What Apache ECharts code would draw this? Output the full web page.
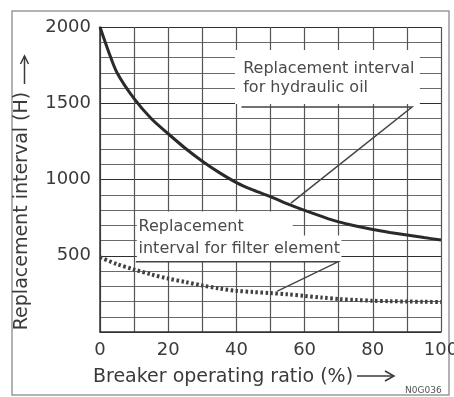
<!DOCTYPE html>
<html>
<head>
<meta charset="utf-8">
<script src="https://cdn.jsdelivr.net/npm/echarts@6/dist/echarts.min.js"></script>
<style>
  html, body { margin: 0; padding: 0; background: #fff; }
  #main { width: 454px; height: 397px; }
</style>
</head>
<body>
<div id="main"></div>
<script>
// breaker operating ratio (%) -> replacement interval (H)
const oilRatio = [0, 2.5, 5, 10, 15, 20, 25, 30, 35, 40, 45, 50, 55, 60, 65, 70, 75, 80, 85, 90, 95, 100]
const oilHours = [2000, 1840, 1700, 1530, 1400, 1300, 1205, 1120, 1045, 980, 930, 888, 840, 797, 758, 722, 695, 672, 653, 636, 619, 604]

const filterRatio = [0, 5, 10, 15, 20, 25, 30, 35, 40, 45, 50, 55, 60, 65, 70, 75, 80, 85, 90, 95, 100]
const filterHours = [490, 445, 410, 378, 350, 328, 305, 285, 270, 262, 255, 247, 237, 226, 216, 210, 205, 202, 200, 198, 197]

const xTicks = [0, 20, 40, 60, 80, 100]
const yTicks = [500, 1000, 1500, 2000]

const FONT = '"DejaVu Sans", "Liberation Sans", sans-serif'
const INK = '#3a3a3a'

let myChart = echarts.init(document.getElementById('main'))

let option = {
  backgroundColor: '#fff',
  animation: false,
  grid: { left: 100, top: 27, right: 13, bottom: 65, containLabel: false, outerBoundsMode: 'none' },
  xAxis: {
    type: 'value',
    min: 0,
    max: 100,
    interval: 10,
    axisLine: { show: true, lineStyle: { color: '#333', width: 1.5 } },
    axisTick: { show: false },
    axisLabel: {
      margin: 9,
      fontSize: 18,
      fontFamily: FONT,
      color: INK,
      formatter: v => (xTicks.indexOf(v) >= 0 ? String(v) : ''),
    },
    splitLine: { show: true, lineStyle: { color: '#555', width: 1.2 } },
  },
  yAxis: {
    type: 'value',
    min: 0,
    max: 2000,
    interval: 100,
    axisLine: { show: true, lineStyle: { color: '#333', width: 1.5 } },
    axisTick: { show: false },
    axisLabel: {
      margin: 9,
      fontSize: 18,
      fontFamily: FONT,
      color: INK,
      formatter: v => (yTicks.indexOf(v) >= 0 ? String(v) : ''),
    },
    splitLine: {
      show: true,
      lineStyle: { color: ['#2e2e2e', '#6a6a6a', '#6a6a6a', '#6a6a6a', '#6a6a6a'], width: 1.2 },
    },
  },
  series: [
    {
      name: 'hydraulic oil',
      type: 'line',
      smooth: 0.3,
      symbol: 'none',
      data: oilRatio.map((x, i) => [x, oilHours[i]]),
      lineStyle: { color: '#2a2a2a', width: 3 },
      z: 5,
    },
    {
      name: 'filter element',
      type: 'line',
      smooth: 0.3,
      symbol: 'none',
      data: filterRatio.map((x, i) => [x, filterHours[i]]),
      lineStyle: { color: '#404040', width: 4, type: [2.5, 2.5] },
      z: 5,
    },
  ],
}

myChart.setOption(option)

// annotation anchors, in data space
const px = p => myChart.convertToPixel({ gridIndex: 0 }, p)

function box(a, b) {
  const p1 = px(a), p2 = px(b)
  return {
    type: 'rect', z: 10,
    shape: { x: p1[0], y: p1[1], width: p2[0] - p1[0], height: p2[1] - p1[1] },
    style: { fill: '#fff' },
  }
}
function label(at, text) {
  const p = px(at)
  return {
    type: 'text', z: 11, x: p[0], y: p[1],
    style: { text: text, font: '16px ' + FONT, fill: '#4a4a4a', verticalAlign: 'middle' },
  }
}
function leader(points) {
  return {
    type: 'polyline', z: 12,
    shape: { points: points.map(px) },
    style: { stroke: '#444', lineWidth: 1.5, fill: null },
  }
}

let graphic = [
  // scanned page frame
  {
    type: 'rect', z: 0,
    shape: { x: 12, y: 11, width: 437, height: 384 },
    style: { fill: null, stroke: '#9a9a9a', lineWidth: 1.5 },
  },
  // hydraulic oil note
  box([39.6, 1850], [93.8, 1495]),
  label([42, 1725], 'Replacement interval'),
  label([42, 1600], 'for hydraulic oil'),
  leader([[41.5, 1475], [91.5, 1475], [56, 845]]),
  // filter element note
  box([10.8, 790], [56.5, 630]),
  box([10.8, 632], [70.8, 466]),
  label([11.3, 690], 'Replacement'),
  label([11.3, 545], 'interval for filter element'),
  leader([[10.5, 460], [69.8, 460], [52, 268]]),
  // axis names
  {
    type: 'text', x: 22, y: 211, rotation: Math.PI / 2,
    style: { text: 'Replacement interval (H)', font: '19px ' + FONT, fill: INK, align: 'center', verticalAlign: 'middle' },
  },
  {
    type: 'polyline',
    shape: { points: [[24.5, 84], [24.5, 56]] },
    style: { stroke: INK, lineWidth: 1.5, fill: null },
  },
  {
    type: 'polyline',
    shape: { points: [[20.5, 64], [24.5, 56], [28.5, 64]] },
    style: { stroke: INK, lineWidth: 1.5, fill: null },
  },
  {
    type: 'text', x: 93, y: 377,
    style: { text: 'Breaker operating ratio (%)', font: '19px ' + FONT, fill: INK, verticalAlign: 'middle' },
  },
  {
    type: 'polyline',
    shape: { points: [[357, 376], [394, 376]] },
    style: { stroke: INK, lineWidth: 1.5, fill: null },
  },
  {
    type: 'polyline',
    shape: { points: [[385, 371], [394, 376], [385, 381]] },
    style: { stroke: INK, lineWidth: 1.5, fill: null },
  },
  {
    type: 'text', x: 405, y: 391,
    style: { text: 'N0G036', font: '9px ' + FONT, fill: '#555', verticalAlign: 'middle' },
  },
]

myChart.setOption({ graphic: graphic })
</script>
</body>
</html>
